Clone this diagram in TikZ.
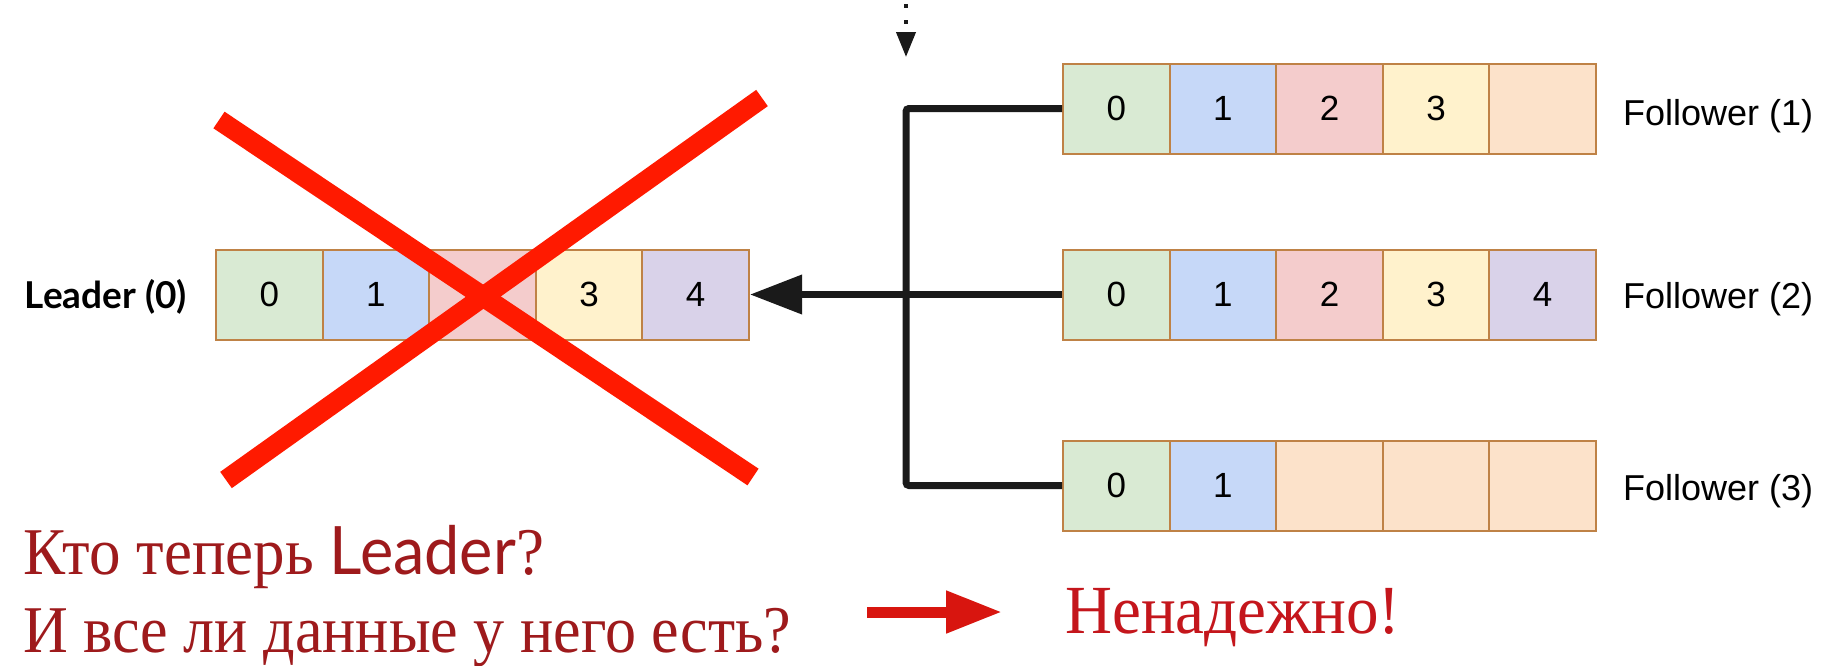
\documentclass[tikz,border=0pt]{standalone}
\usepackage{fontspec}
\setmainfont{Liberation Serif}
\newfontfamily\latof{Lato}
\newfontfamily\labf{Liberation Sans}
\usetikzlibrary{arrows.meta}
\definecolor{cgreen}{HTML}{D9EAD3}
\definecolor{cblue}{HTML}{C6D8F8}
\definecolor{cred}{HTML}{F4CCCC}
\definecolor{cyellow}{HTML}{FFF2CC}
\definecolor{cpurple}{HTML}{D9D2E9}
\definecolor{corange}{HTML}{FCE2CA}
\definecolor{cborder}{HTML}{BF8246}
\definecolor{xred}{HTML}{FF1A00}
\definecolor{darkred}{HTML}{9E1A1C}
\definecolor{brightred}{HTML}{C4161C}
\definecolor{arrred}{HTML}{D8150F}
\definecolor{blk}{HTML}{1A1A1A}
\newcommand{\tallx}[2][1]{\scalebox{#1}[1.06]{#2}}
\tikzset{
  cell/.style={draw=cborder, line width=2pt, minimum width=106.6pt, minimum height=90pt,
    inner sep=0pt, font=\labf\fontsize{35}{35}\selectfont},
  rowlabel/.style={font=\labf\fontsize{36}{36}\selectfont, anchor=base west, inner sep=0pt},
  conn/.style={draw=blk, line width=7pt, rounded corners=3pt},
  redtext/.style={text=darkred, font=\fontsize{63}{63}\selectfont, anchor=base west, inner sep=0pt},
}
\begin{document}
\begin{tikzpicture}[x=1pt, y=-1pt]
\useasboundingbox (0,0) rectangle (1831,665);
\fill[white] (0,0) rectangle (1831,665);
% Leader row
\node[cell, fill=cgreen]  (L0) at (269.3,294.5) {0};
\node[cell, fill=cblue]   (L1) at (375.9,294.5) {1};
\node[cell, fill=cred]    (L2) at (482.5,294.5) {};
\node[cell, fill=cyellow] (L3) at (589.1,294.5) {3};
\node[cell, fill=cpurple] (L4) at (695.7,294.5) {4};
\node[font=\latof\bfseries\fontsize{37}{37}\selectfont, anchor=base east, inner sep=0pt] (leaderlab) at (187,308) {Leader (0)};
% Follower 1
\node[cell, fill=cgreen]  (A0) at (1116.3,108.5) {0};
\node[cell, fill=cblue]   (A1) at (1222.9,108.5) {1};
\node[cell, fill=cred]    (A2) at (1329.5,108.5) {2};
\node[cell, fill=cyellow] (A3) at (1436.1,108.5) {3};
\node[cell, fill=corange] (A4) at (1542.7,108.5) {};
\node[rowlabel] (f1) at (1623,125) {Follower (1)};
% Follower 2
\node[cell, fill=cgreen]  (B0) at (1116.3,294.5) {0};
\node[cell, fill=cblue]   (B1) at (1222.9,294.5) {1};
\node[cell, fill=cred]    (B2) at (1329.5,294.5) {2};
\node[cell, fill=cyellow] (B3) at (1436.1,294.5) {3};
\node[cell, fill=cpurple] (B4) at (1542.7,294.5) {4};
\node[rowlabel] (f2) at (1623,308) {Follower (2)};
% Follower 3
\node[cell, fill=cgreen]  (C0) at (1116.3,485.5) {0};
\node[cell, fill=cblue]   (C1) at (1222.9,485.5) {1};
\node[cell, fill=corange] (C2) at (1329.5,485.5) {};
\node[cell, fill=corange] (C3) at (1436.1,485.5) {};
\node[cell, fill=corange] (C4) at (1542.7,485.5) {};
\node[rowlabel] (f3) at (1623,500) {Follower (3)};
% connectors
\coordinate (trunk) at (906,294.5);
\path[conn] (A0.west) -| (trunk) |- (C0.west);
\draw[draw=blk, line width=7pt, -{Triangle[length=52pt, width=38pt]}] (B0.west) -- (L4.east);
\coordinate (dtop) at (906,4);
\coordinate (dtip) at (906,57);
\draw[draw=blk, line width=4pt, dash pattern=on 4pt off 12pt, -{Triangle[length=25pt, width=19pt]}] (dtop) -- (dtip);
% red X
\coordinate (xa1) at (219,120);
\coordinate (xa2) at (753,477);
\coordinate (xb1) at (762,98);
\coordinate (xb2) at (226,480);
\draw[xred, line width=20pt] (xa1) -- (xa2);
\draw[xred, line width=20pt] (xb1) -- (xb2);
% texts
\node[redtext] (q1) at (23,574) {\tallx{Кто теперь {\latof Leader}?}};
\node[redtext] (q2) at (23,652) {\tallx[0.985]{И все ли данные у него есть?}};
\coordinate (ra1) at (867,612);
\coordinate (ra2) at (1002,612);
\draw[arrred, line width=11pt, -{Triangle[length=56pt, width=40pt]}] (ra1) -- (ra2);
\node[redtext, text=brightred, font=\fontsize{65}{65}\selectfont] (ans) at (1065,633) {\tallx{Ненадежно!}};
\end{tikzpicture}
\end{document}
